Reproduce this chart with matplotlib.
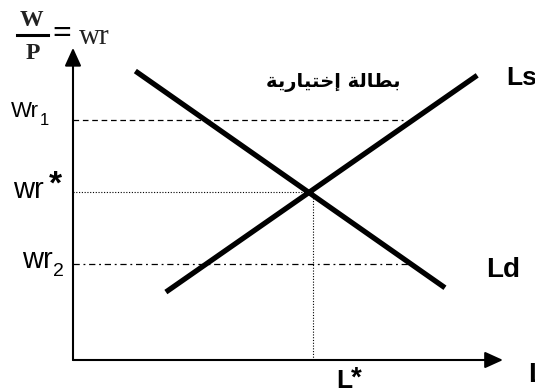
import numpy as np
import matplotlib
matplotlib.use('Agg')
import matplotlib.pyplot as plt

plt.rcParams['font.family'] = ['Liberation Sans', 'DejaVu Sans']

# labour market diagram (L on x, real wage wr on y)
L_demand = [1.45, 8.65]
wr_demand = [6.72, 1.68]
L_supply = [2.16, 9.40]
wr_supply = [1.58, 6.62]
L_star = 5.57
wr_star = 3.90
wr1 = 5.58
wr1_end = 7.68
wr2 = 2.23
wr2_end = 7.80
L_max = 10.0
wr_max = 7.26

# arabic label "بطالة إختيارية" in visual order (presentation forms)
label_ar = ('\uFE94\uFEF3\uFEAD\uFE8E\uFEF4\uFE98\uFEA7\uFE87'
            ' '
            '\uFE94\uFEDF\uFE8E\uFEC4\uFE91')

W, H = 535, 389
fig = plt.figure(figsize=(W/100, H/100), dpi=100)
ax = fig.add_axes([0, 0, 1, 1])
ax.set_xlim(-73/43, (W-73)/43)
ax.set_ylim((360-H)/43, 360/43)
ax.axis('off')

def fx(x):
    return x/W
def fy(y):
    return 1-y/H

# axes with arrows
arr = dict(arrowstyle='-|>,head_length=0.55,head_width=0.25', lw=1.5,
           color='black', mutation_scale=20, shrinkA=0, shrinkB=0)
ax.annotate('', xy=(0, wr_max), xytext=(0, 0), arrowprops=arr)
ax.annotate('', xy=(L_max, 0), xytext=(0, 0), arrowprops=arr)

# reference lines
ax.plot([0, wr1_end], [wr1, wr1], color='black', lw=0.9, ls=(0, (4.5, 3)))
ax.plot([0, L_star], [wr_star, wr_star], color='black', lw=0.8, ls=(0, (1, 1.5)))
ax.plot([L_star, L_star], [0, wr_star], color='black', lw=0.8, ls=(0, (1, 1.5)))
ax.plot([0, wr2_end], [wr2, wr2], color='black', lw=0.9, ls=(0, (5, 3, 1.5, 3)))

# demand and supply curves
ax.plot(L_demand, wr_demand, color='black', lw=3.8, solid_capstyle='butt')
ax.plot(L_supply, wr_supply, color='black', lw=3.8, solid_capstyle='butt')

# y labels
fig.text(fx(39), fy(117), 'Wr', fontsize=16, ha='right', va='baseline')
fig.text(fx(40), fy(125), '1', fontsize=12, ha='left', va='baseline')
fig.text(fx(44), fy(198), 'wr', fontsize=21, ha='right', va='baseline')
fig.text(fx(49), fy(170), '*', fontsize=24, fontweight='bold', ha='left', va='top')
fig.text(fx(53), fy(268), 'wr', fontsize=21, ha='right', va='baseline')
fig.text(fx(53), fy(276), '2', fontsize=14, ha='left', va='baseline')

# curve labels (cut by the right edge as in the original)
fig.text(fx(506), fy(78), 'Ls', fontsize=19, fontweight='bold', ha='left', va='center')
fig.text(fx(486), fy(270), 'Ld', fontsize=20, fontweight='bold', ha='left', va='center')
fig.text(fx(336), fy(369), 'L', fontsize=19, fontweight='bold', ha='left', va='top')
fig.text(fx(351), fy(366), '*', fontsize=20, fontweight='bold', ha='left', va='top')
fig.text(fx(528), fy(362), 'L', fontsize=20, fontweight='bold', ha='left', va='top')

# arabic text
fig.text(fx(333), fy(83), label_ar, fontsize=14, fontweight='bold',
         family=['DejaVu Sans'], ha='center', va='center')

# W/P = wr
fig.text(fx(31), fy(26), 'W', fontsize=17, fontweight='bold', family=['Liberation Serif'],
         color='#222222', ha='center', va='baseline')
fig.add_artist(plt.Line2D([fx(17), fx(48)], [fy(35), fy(35)], color='black', lw=2.2))
fig.text(fx(33), fy(59), 'P', fontsize=17, fontweight='bold', family=['Liberation Serif'],
         color='#222222', ha='center', va='baseline')
fig.text(fx(52), fy(43), '=', fontsize=24, fontweight='bold', family=['Liberation Serif'],
         ha='left', va='baseline')
fig.text(fx(79), fy(44), 'wr', fontsize=21, family=['Liberation Serif'],
         color='#222222', ha='left', va='baseline')

fig.savefig('out.png', dpi=100)
